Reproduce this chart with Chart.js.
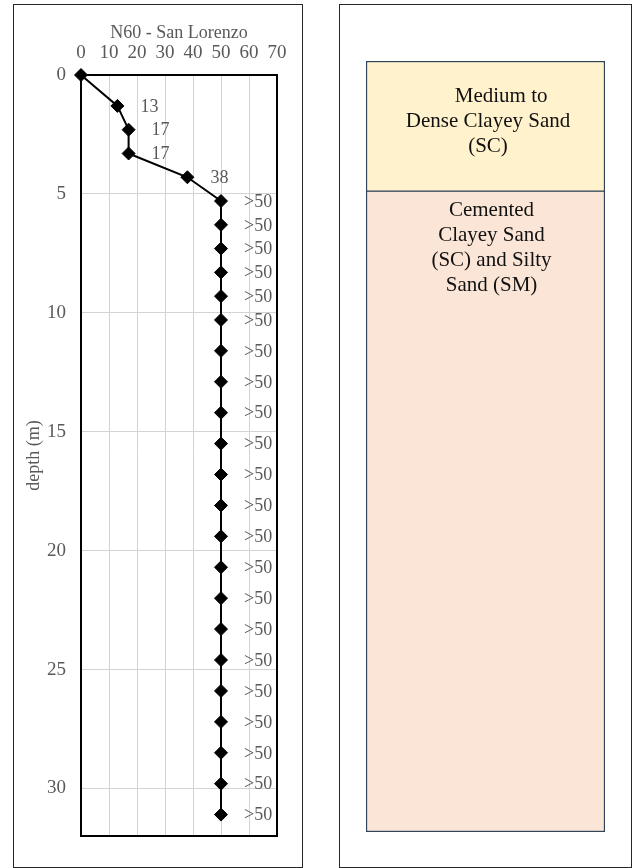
<!DOCTYPE html>
<html>
<head>
<meta charset="utf-8">
<title>N60 - San Lorenzo</title>
<script src="https://cdn.jsdelivr.net/npm/chart.js@4.4.1/dist/chart.umd.min.js"></script>
<style>
  html, body { margin: 0; padding: 0; background: #fff; width: 635px; height: 868px; overflow: hidden; }
  .panel { position: absolute; border: 1px solid #262626; box-sizing: border-box; background: #fff; }
  #leftPanel { left: 13px; top: 4px; width: 290px; height: 864px; }
  #rightPanel { left: 339px; top: 4px; width: 293px; height: 864px; }
  canvas { display: block; }
</style>
</head>
<body>
<div class="panel" id="leftPanel"><canvas id="spt" width="288" height="862"></canvas></div>
<div class="panel" id="rightPanel"><canvas id="soil" width="291" height="862"></canvas></div>
<script>
// SPT profile: sample depth (m) and corrected blow count N60
const depths = [0, 1.3, 2.3, 3.3, 4.3, 5.3, 6.3, 7.3, 8.3, 9.3, 10.3, 11.6, 12.9, 14.2,
                15.5, 16.8, 18.1, 19.4, 20.7, 22.0, 23.3, 24.6, 25.9, 27.2, 28.5, 29.8, 31.1];
const n60 = [0, 13, 17, 17, 38, 50, 50, 50, 50, 50, 50, 50, 50, 50,
             50, 50, 50, 50, 50, 50, 50, 50, 50, 50, 50, 50, 50];
const n60Labels = ['', '13', '17', '17', '38', '>50', '>50', '>50', '>50', '>50', '>50', '>50', '>50', '>50',
                   '>50', '>50', '>50', '>50', '>50', '>50', '>50', '>50', '>50', '>50', '>50', '>50', '>50'];
const n60Ticks = [0, 10, 20, 30, 40, 50, 60, 70];
const depthTicks = [0, 5, 10, 15, 20, 25, 30];

// Soil layers (depth range in m) and their descriptions
const layerTop = [0, 5.4];
const layerBottom = [5.4, 32];
const layerText = [
  ['     Medium to', 'Dense Clayey Sand', '(SC)'],
  ['Cemented', 'Clayey Sand', '(SC) and Silty', 'Sand (SM)']
];

const SERIF = '"Liberation Serif", "Times New Roman", Times, serif';
const GREY = '#595959';
const GRID = '#d3d3d3';

// Frame around the plot area
const plotFrame = {
  id: 'plotFrame',
  beforeDatasetsDraw(chart) {
    const { ctx, chartArea: a } = chart;
    ctx.save();
    ctx.strokeStyle = '#000';
    ctx.lineWidth = 2;
    ctx.strokeRect(a.left, a.top, a.right - a.left, a.bottom - a.top);
    ctx.restore();
  }
};

// Value labels to the right of each marker
const pointLabels = {
  id: 'pointLabels',
  afterDatasetsDraw(chart) {
    const ctx = chart.ctx;
    const meta = chart.getDatasetMeta(0);
    ctx.save();
    ctx.font = '18px ' + SERIF;
    ctx.fillStyle = GREY;
    ctx.textAlign = 'left';
    ctx.textBaseline = 'middle';
    meta.data.forEach((pt, i) => {
      const txt = n60Labels[i];
      if (txt) ctx.fillText(txt, pt.x + 23, pt.y + 1);
    });
    ctx.restore();
  }
};

new Chart(document.getElementById('spt'), {
  type: 'scatter',
  data: {
    datasets: [{
      label: 'N60',
      data: depths.map((d, i) => ({ x: n60[i], y: d })),
      showLine: true,
      borderColor: '#000',
      borderWidth: 2,
      pointStyle: 'rectRot',
      pointRadius: 6.5,
      pointBackgroundColor: '#000',
      pointBorderColor: '#000',
      pointBorderWidth: 1,
      tension: 0,
      clip: false
    }]
  },
  options: {
    responsive: false,
    animation: false,
    devicePixelRatio: 1,
    layout: { padding: { left: 9, right: 25, top: 8, bottom: 31 } },
    plugins: { legend: { display: false }, tooltip: { enabled: false } },
    scales: {
      x: {
        type: 'linear',
        position: 'top',
        min: 0, max: 70,
        afterBuildTicks: s => { s.ticks = n60Ticks.map(v => ({ value: v })); },
        afterFit: s => { s.height = 62; },
        ticks: { color: GREY, font: { family: SERIF, size: 19 }, padding: 11, maxRotation: 0 },
        grid: { color: GRID, lineWidth: 1, drawTicks: false },
        border: { display: false },
        title: { display: true, text: 'N60 - San Lorenzo', color: GREY,
                 font: { family: SERIF, size: 18 }, padding: { top: 9, bottom: 0 } }
      },
      y: {
        type: 'linear',
        position: 'left',
        reverse: true,
        min: 0, max: 32,
        afterBuildTicks: s => { s.ticks = depthTicks.map(v => ({ value: v })); },
        afterFit: s => { s.width = 58; },
        ticks: { color: GREY, font: { family: SERIF, size: 19 }, padding: 15 },
        grid: { color: GRID, lineWidth: 1, drawTicks: false },
        border: { display: false },
        title: { display: true, text: 'depth (m)', color: GREY,
                 font: { family: SERIF, size: 18 }, padding: { top: 0, bottom: 0 } }
      }
    }
  },
  plugins: [plotFrame, pointLabels]
});

// Layer descriptions written inside each block of the soil column
const layerTextStyle = [
  { anchor: 'middle', dx: 2.5, dy: -4.3 },
  { anchor: 'top', dx: 6, dy: 19.6 }
];
const layerLabels = {
  id: 'layerLabels',
  afterDatasetsDraw(chart) {
    const ctx = chart.ctx;
    const lh = 24.8;
    ctx.save();
    ctx.font = '21px ' + SERIF;
    ctx.fillStyle = '#111';
    ctx.textAlign = 'center';
    ctx.textBaseline = 'middle';
    chart.data.datasets.forEach((ds, i) => {
      const bar = chart.getDatasetMeta(i).data[0];
      const { x, y, base } = bar.getProps(['x', 'y', 'base'], true);
      const top = Math.min(y, base), bottom = Math.max(y, base);
      const lines = layerText[i];
      const st = layerTextStyle[i];
      const y0 = st.anchor === 'top'
        ? top + st.dy
        : (top + bottom) / 2 - (lines.length - 1) * lh / 2 + st.dy;
      lines.forEach((ln, k) => ctx.fillText(ln, x + st.dx, y0 + k * lh));
    });
    ctx.restore();
  }
};

const layerFill = ['#FFF2CC', '#FBE5D6'];
new Chart(document.getElementById('soil'), {
  type: 'bar',
  data: {
    labels: ['profile'],
    datasets: layerTop.map((t, i) => ({
      label: layerText[i].join(' ').trim(),
      data: [[t, layerBottom[i]]],
      backgroundColor: layerFill[i],
      borderColor: '#2f4459',
      borderWidth: i === 0
        ? { top: 1.5, left: 1.5, right: 1.5, bottom: 1 }
        : { top: 1, left: 1.5, right: 1.5, bottom: 1.5 },
      borderSkipped: false,
      grouped: false,
      barPercentage: 1,
      categoryPercentage: 1
    }))
  },
  options: {
    responsive: false,
    animation: false,
    devicePixelRatio: 1,
    layout: { padding: { left: 26, right: 26, top: 56, bottom: 35 } },
    plugins: { legend: { display: false }, tooltip: { enabled: false } },
    scales: {
      x: { display: false },
      y: { display: false, reverse: true, min: 0, max: 32 }
    }
  },
  plugins: [layerLabels]
});
</script>
</body>
</html>
